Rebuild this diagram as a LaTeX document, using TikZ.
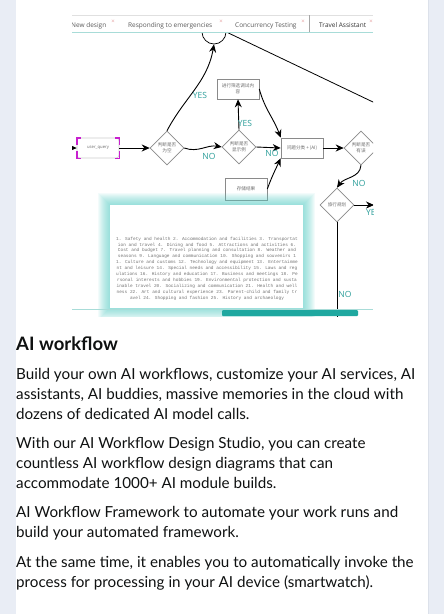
\documentclass[tikz,border=0pt]{standalone}
\usepackage{fontspec}
\setmainfont{Lato}
\newfontfamily\cjkfont{Noto Sans CJK SC}
\newfontfamily\uifont{Open Sans}
\newfontfamily\panelfont{Liberation Mono}
\usetikzlibrary{arrows.meta,positioning,shapes.geometric}

\definecolor{pagebg}{HTML}{E9EDF5}
\definecolor{pageedge}{HTML}{DCE1EA}
\definecolor{bodyink}{HTML}{0F1111}
\definecolor{tabline}{HTML}{A8DCD8}
\definecolor{tabink}{HTML}{5A5A5A}
\definecolor{closeink}{HTML}{E7A3A3}
\definecolor{tealbar}{HTML}{1FA8A0}
\definecolor{answerink}{HTML}{2C9E9A}
\definecolor{shapeline}{HTML}{8A8A8A}
\definecolor{shapeink}{HTML}{6E6E6E}
\definecolor{handle}{HTML}{C81FCF}
\definecolor{glow}{HTML}{5ED2C9}

\tikzset{
  flowbox/.style={draw=shapeline, line width=.6pt, minimum width=42pt, minimum height=20pt,
    inner sep=1pt, align=center, text=shapeink, font=\cjkfont\fontsize{4.6}{5.6}\selectfont},
  decision/.style={diamond, draw=shapeline, line width=.6pt, minimum width=34pt, minimum height=34pt,
    inner sep=0pt, align=center, text=shapeink, font=\cjkfont\fontsize{4.6}{5.6}\selectfont},
  flowarrow/.style={-{Stealth[length=8pt,width=7pt]}, line width=.9pt},
  answer/.style={text=answerink, font=\uifont\fontsize{8.5}{9}\selectfont, inner sep=0pt},
  tabtitle/.style={anchor=base west, inner sep=0pt, text=tabink, font=\uifont\fontsize{6.5}{7}\selectfont},
  tabclose/.style={inner sep=0pt, text=closeink, font=\uifont\fontsize{6}{6}\selectfont},
  bodyline/.style={anchor=base west, inner sep=0pt, text=bodyink, font=\fontsize{15.2}{19}\selectfont},
  handlemark/.style={handle, line width=1.6pt},
}

\begin{document}
\begin{tikzpicture}[x=1pt,y=-1pt]
    \useasboundingbox (0,0) rectangle (444,614);
    \fill[pagebg] (0,0) rectangle (444,614);
    \fill[white] (16,0) rectangle (428,614);
    \draw[pageedge] (428,0) -- (428,614);

    \begin{scope}
    \clip (72,15) rectangle (373,316);
    \node[circle, draw, line width=.7pt, minimum size=24pt, inner sep=0pt] (finish) at (214,32) {};
    \node[flowbox, rounded corners=3pt, draw=black!20, font=\uifont\fontsize{4.2}{5}\selectfont] (query) at (98,148) {user\_query};
    \node[decision] (isempty) at (167,148) {判断是否\\为空};
    \node[decision] (isexample) at (239,147) {判断是否\\显示例};
    \node[flowbox] (filter) at (238,89) {进行筛选调试内\\容};
    \node[flowbox] (classify) at (302,148) {问题分类 + (AI)};
    \node[flowbox, minimum height=22pt] (store) at (246,189) {存储结果};
    \node[decision] (iserror) at (361,148) {判断是否\\有误};
    \node[decision] (plan) at (337,205) {旅行规划};
    \coordinate (inlet) at (60,148);
    \coordinate (farright) at (440,134);
    \coordinate (planyes) at (374,205);
    \coordinate (planno) at (337,330);

    \draw[handlemark] ([yshift=-7pt]query.north west) -- (query.north west) -- +(4,0);
    \draw[handlemark] ([yshift=7pt]query.south west) -- (query.south west) -- +(4,0);
    \draw[handlemark] ([yshift=-7pt]query.north east) -- (query.north east) -- +(-4,0);
    \draw[handlemark] ([yshift=7pt]query.south east) -- (query.south east) -- +(-4,0);

    \draw[flowarrow] (inlet) -- (query.west);
    \draw[flowarrow] (query.east) -- (isempty.west);
    \draw[flowarrow] (isempty.north) to[out=62,in=-100] (finish.south);
    \draw[flowarrow] (isempty.east) to[out=-20,in=170] (isexample.west);
    \draw[flowarrow] (isexample.north) -- (filter.south);
    \draw[flowarrow] (isexample.east) -- (classify.west);
    \draw[flowarrow] (filter.east) to[out=-75,in=110] (classify.north west);
    \draw[flowarrow] (store.east) to[out=70,in=-115] (classify.south west);
    \draw[flowarrow] (classify.east) -- (iserror.west);
    \draw[flowarrow] (iserror.south) to[out=-95,in=55] (plan.north);
    \draw[flowarrow] (plan.east) -- (planyes);
    \draw[line width=.9pt] (plan.south) -- (planno);
    \draw[line width=.8pt] (finish.east) -- (farright);

    \node[answer] (yesempty) at (200,95) {YES};
    \node[answer] (noempty) at (209,156) {NO};
    \node[answer] (yesexample) at (245,123) {YES};
    \node[answer] (noexample) at (272,153) {NO};
    \node[answer] (noerror) at (359,183) {NO};
    \node[answer, anchor=west] (yesplan) at (366,212) {YES};
    \node[answer] (noplan) at (345,294) {NO};

    \fill[white] (72,15) rectangle (373,32);
    \draw[black!12] (72,15.5) -- (373,15.5);
    \draw[tabline, line width=1pt] (72,32) -- (373,32);
    \draw[black!35] (309,15) -- (309,32);
    \foreach \x/\t/\c/\n in {71/New design/113/tabnew, 128/Responding to emergencies/221/tabemerg, 235/Concurrency Testing/303/tabconc}
        {\node[tabtitle] (\n) at (\x,27) {\t};
         \node[tabclose] (\n-x) at (\c,22) {×};}
    \node[tabtitle, text=black!80] (tabtravel) at (319,27) {Travel Assistant};
    \node[tabclose] (tabtravel-x) at (371,22) {×};

    \foreach \i in {1,...,12}
        {\fill[glow, opacity=.07] (110-\i,205-\i) rectangle (303+\i,308+\i);}
    \fill[white] (110,205) rectangle (303,308);
    \node[text=black!55, align=center, inner sep=0pt, font=\panelfont\fontsize{4.45}{5.9}\selectfont] (topics) at (207,268.5)
        {1. Safety and health 2. Accommodation and facilities 3. Transportat\\
         ion and travel 4. Dining and food 5. Attractions and activities 6.\\
         Cost and budget 7. Travel planning and consultation 8. Weather and\\
         seasons 9. Language and communication 10. Shopping and souvenirs 1\\
         1. Culture and customs 12. Technology and equipment 13. Entertainme\\
         nt and leisure 14. Special needs and accessibility 15. Laws and reg\\
         ulations 16. History and education 17. Business and meetings 18. Pe\\
         rsonal interests and hobbies 19. Environmental protection and susta\\
         inable travel 20. Socializing and communication 21. Health and well\\
         ness 22. Art and cultural experience 23. Parent-child and family tr\\
         avel 24. Shopping and fashion 25. History and archaeology};
    \draw[tabline, line width=1pt] (72,309) -- (373,309);
    \fill[tealbar, rounded corners=1pt] (222,310) rectangle (358,316);
    \end{scope}

    \node[bodyline, font=\bfseries\fontsize{18.5}{22}\selectfont] (heading) at (16,350.5) {AI workflow};
    \foreach \y/\t [count=\k] in {
        379.3/{Build your own AI workflows, customize your AI services, AI},
        399.3/{assistants, AI buddies, massive memories in the cloud with},
        419.3/{dozens of dedicated AI model calls.},
        448.3/{With our AI Workflow Design Studio, you can create},
        468.3/{countless AI workflow design diagrams that can},
        488.3/{accommodate 1000+ AI module builds.},
        517.7/{AI Workflow Framework to automate your work runs and},
        537.7/{build your automated framework.},
        567.3/{At the same time, it enables you to automatically invoke the},
        587.7/{process for processing in your AI device (smartwatch).}}
        {\node[bodyline] (line\k) at (16,\y) {\t};}
\end{tikzpicture}
\end{document}
